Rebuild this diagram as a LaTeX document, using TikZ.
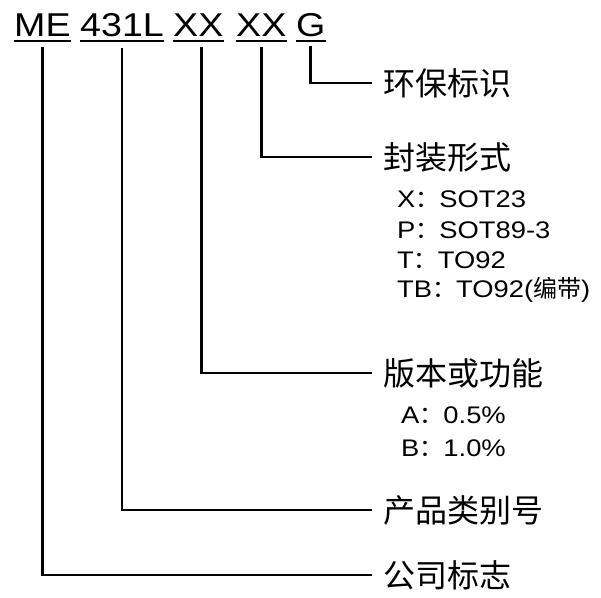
\documentclass[tikz,border=0pt]{standalone}
\usepackage{fontspec}
\setmainfont{Liberation Sans}[FakeStretch=1.14]
\newfontfamily\cjk{Noto Sans CJK SC}
\usepackage{tikz}

\begin{document}
\begin{tikzpicture}[x=1pt,y=-1pt,
       word/.style={anchor=base west,inner sep=0pt,font=\fontsize{33}{33}\selectfont},
       lbl/.style={anchor=west,inner sep=0pt,outer xsep=11pt,font=\cjk\fontsize{32}{32}\selectfont},
       sub/.style={anchor=base west,inner sep=0pt,font=\fontsize{24}{24}\selectfont},
       uline/.style={line width=2pt},
       wire/.style={line width=2.8pt}]
       \useasboundingbox (0,0) rectangle (601,597);
       % part number
       \node[word] (me) at (14,36) {ME};
       \node[word] (type) at (80,36) {431L};
       \node[word] (ver) at (173,36) {XX};
       \node[word] (pkg) at (236,36) {XX};
       \node[word] (env) at (296,36) {G};
       \foreach \w in {me,type,ver,pkg,env}
       {
         \draw[uline] ([yshift=-5pt]\w.base west) -- ([yshift=-5pt]\w.base east);
       }
       % labels
       \node[lbl] (envl) at (372,83) {环保标识};
       \node[lbl] (pkgl) at (372,157) {封装形式};
       \node[lbl] (verl) at (372,373) {版本或功能};
       \node[lbl] (typel) at (372,510) {产品类别号};
       \node[lbl] (mel) at (372,575) {公司标志};
       \node[sub] (pkx) at (397,207) {X{\cjk ：}SOT23};
       \node[sub] (pkp) at (397,238) {P{\cjk ：}SOT89-3};
       \node[sub] (pkt) at (397,268) {T{\cjk ：}TO92};
       \node[sub] (pktb) at (397,297) {TB{\cjk ：}TO92({\cjk 编带})};
       \node[sub] (vera) at (401,423) {A{\cjk ：}0.5\%};
       \node[sub] (verb) at (401,456) {B{\cjk ：}1.0\%};
       % leaders
       \draw[wire] ([yshift=-9pt]env.south) |- (envl.west);
       \draw[wire] ([yshift=-11pt]pkg.south) |- (pkgl.west);
       \draw[wire] ([xshift=3pt,yshift=-11pt]ver.south) |- (verl.west);
       \draw[wire] ([yshift=-11pt]type.south) |- (typel.west);
       \draw[wire] ([yshift=-11pt]me.south) |- (mel.west);
\end{tikzpicture}
\end{document}
